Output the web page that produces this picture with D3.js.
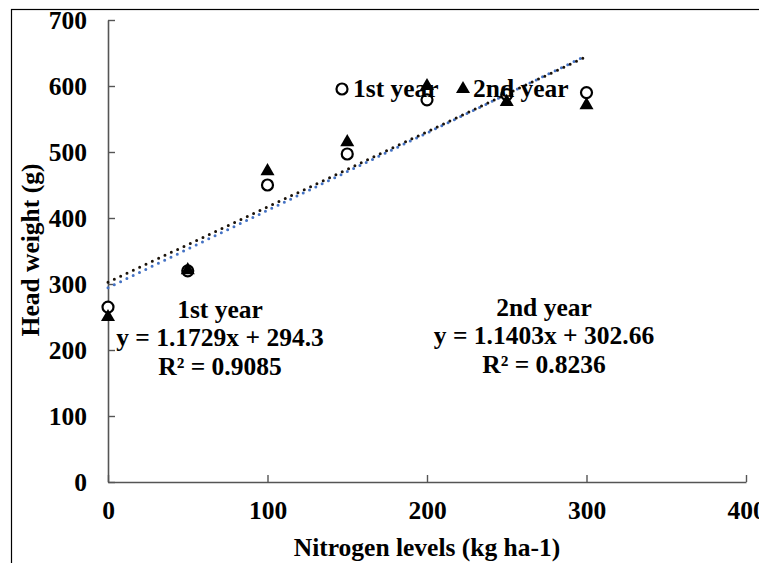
<!DOCTYPE html>
<html><head><meta charset="utf-8">
<script src="https://cdn.jsdelivr.net/npm/d3@7"></script>
<style>body{margin:0;background:#fff}svg{display:block}text{font-family:"Liberation Serif","Times New Roman",serif;font-weight:bold;fill:#000}</style>
</head><body><svg id="c" width="759" height="563"></svg>
<script>
const nitrogen = [0, 50, 100, 150, 200, 250, 300];
const year1 = [265, 320, 450, 497, 579, 587, 590];
const year2 = [250, 321, 471, 515, 600, 576, 571];
const xTicks = [0, 100, 200, 300, 400];
const yTicks = [0, 100, 200, 300, 400, 500, 600, 700];
const trend1 = {slope: 1.1729, intercept: 294.3, r2: "0.9085", label: "1st year"};
const trend2 = {slope: 1.1403, intercept: 302.66, r2: "0.8236", label: "2nd year"};

const FS = 25.5;
const svg = d3.select("#c");
svg.append("rect").attr("x", 11.5).attr("y", 9.5).attr("width", 900).attr("height", 700)
  .attr("fill", "none").attr("stroke", "#000").attr("stroke-width", 1.2);

const x = d3.scaleLinear().domain([0, 400]).range([108, 746]);
const y = d3.scaleLinear().domain([0, 700]).range([482, 20]);

const axisCol = "#555";
const gx = svg.append("g").attr("transform", `translate(0,${y(0)})`)
  .call(d3.axisBottom(x).tickValues(xTicks).tickSizeInner(-7).tickSizeOuter(0).tickPadding(19));
const gy = svg.append("g").attr("transform", `translate(${x(0)},0)`)
  .call(d3.axisLeft(y).tickValues(yTicks).tickSizeInner(-7).tickSizeOuter(0).tickPadding(21));
[gx, gy].forEach(g => {
  g.select(".domain").attr("stroke", axisCol).attr("stroke-width", 1.6);
  g.selectAll(".tick line").attr("stroke", axisCol).attr("stroke-width", 1.4);
  g.selectAll(".tick text").attr("font-size", FS).attr("font-family", "Liberation Serif").attr("font-weight", "bold").attr("fill", "#000");
});
gx.selectAll(".tick text").attr("dy", "0.71em");

// axis titles
svg.append("text").attr("x", 427).attr("y", 556).attr("text-anchor", "middle")
  .attr("font-size", FS).text("Nitrogen levels (kg ha-1)");
svg.append("text").attr("transform", `translate(39,${250}) rotate(-90)`).attr("text-anchor", "middle")
  .attr("font-size", FS).text("Head weight (g)");

// trend lines
const tline = t => [[0, t.intercept], [300, t.intercept + t.slope * 300]];
const lg = d3.line().x(d => x(d[0])).y(d => y(d[1]));
svg.append("path").attr("d", lg(tline(trend1))).attr("fill", "none").attr("stroke", "#4472C4")
  .attr("stroke-width", 3).attr("stroke-linecap", "round").attr("stroke-dasharray", "0 7");
svg.append("path").attr("d", lg(tline(trend2))).attr("fill", "none").attr("stroke", "#1a1208")
  .attr("stroke-width", 3).attr("stroke-linecap", "round").attr("stroke-dasharray", "0 7");

// markers
const tri = d3.symbol().type(d3.symbolTriangle).size(85);
svg.append("g").selectAll("circle").data(nitrogen).join("circle")
  .attr("cx", (d) => x(d)).attr("cy", (d, i) => y(year1[i])).attr("r", 5.5)
  .attr("fill", "#fff").attr("stroke", "#000").attr("stroke-width", 2.2);
svg.append("g").selectAll("path").data(nitrogen).join("path")
  .attr("d", tri).attr("transform", (d, i) => `translate(${x(d)},${y(year2[i])})`).attr("fill", "#000");

// legend
const lgd = svg.append("g");
lgd.append("circle").attr("cx", 342).attr("cy", 89).attr("r", 5.5).attr("fill", "#fff").attr("stroke", "#000").attr("stroke-width", 2.2);
lgd.append("text").attr("x", 353).attr("y", 97).attr("font-size", FS).text(trend1.label);
lgd.append("path").attr("d", tri).attr("transform", "translate(463,89)").attr("fill", "#000");
lgd.append("text").attr("x", 473).attr("y", 97).attr("font-size", FS).text(trend2.label);

// equations
function eq(t, cx, y0) {
  const g = svg.append("g").attr("text-anchor", "middle").attr("font-size", FS);
  g.append("text").attr("x", cx).attr("y", y0).text(t.label);
  g.append("text").attr("x", cx).attr("y", y0 + 28).text(`y = ${t.slope}x + ${t.intercept}`);
  g.append("text").attr("x", cx).attr("y", y0 + 57).text(`R² = ${t.r2}`);
}
eq(trend1, 220, 318);
eq(trend2, 544, 316);
</script></body></html>
